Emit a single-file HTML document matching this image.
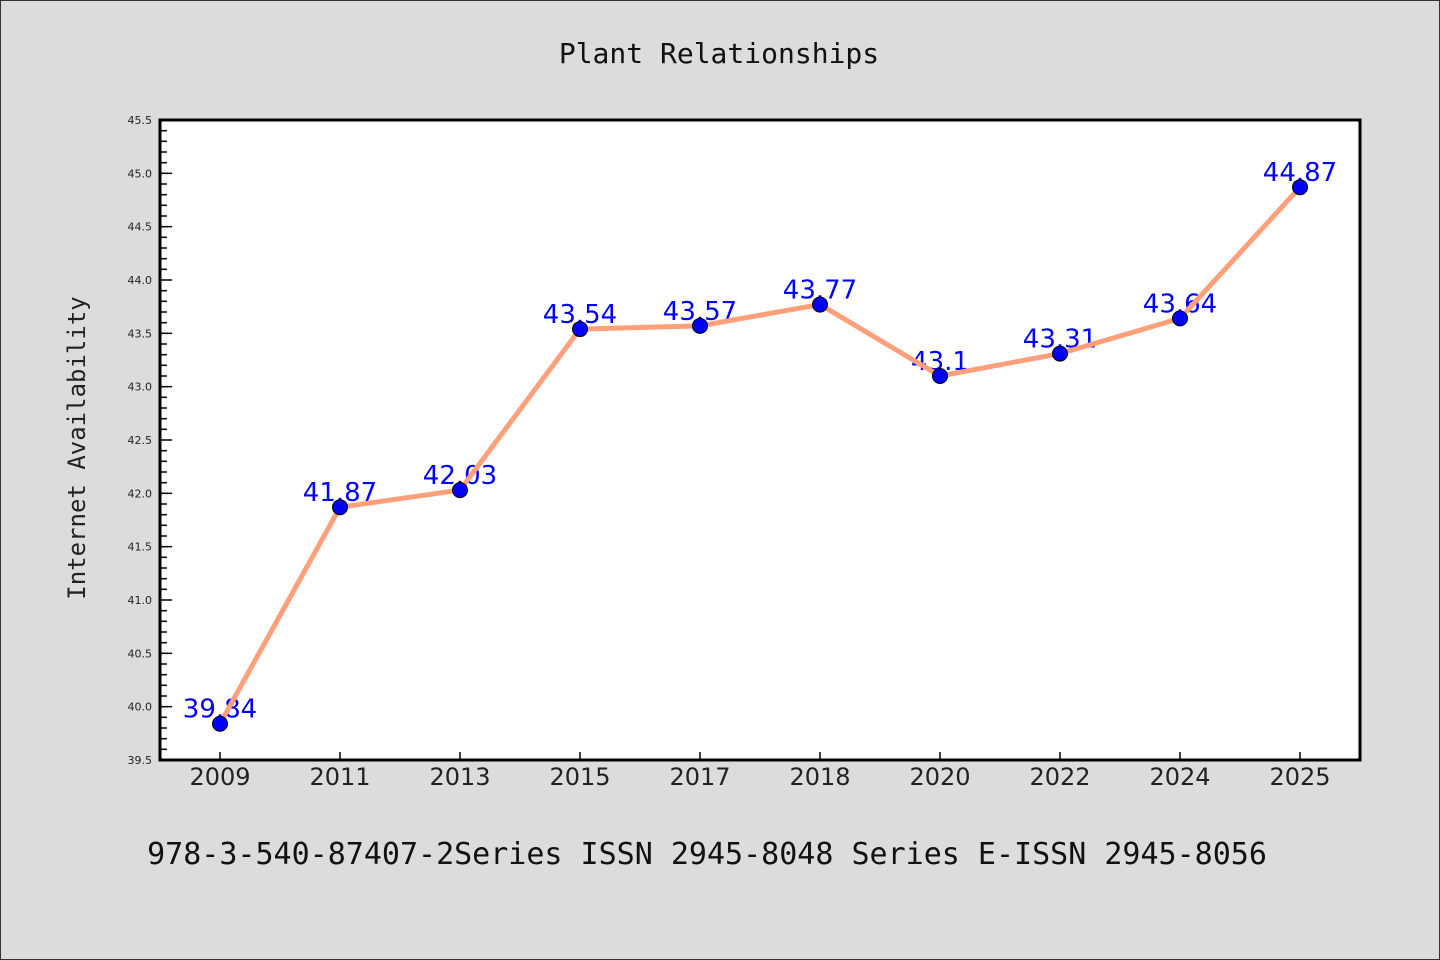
<!DOCTYPE html>
<html><head><meta charset="utf-8"><style>
body{margin:0;background:#dcdcdc;}
svg{display:block}
</style></head><body>
<svg width="1440" height="960" xmlns="http://www.w3.org/2000/svg">
<rect x="0.5" y="0.5" width="1439" height="959" fill="#dcdcdc" stroke="#333"/>
<text x="719" y="63" text-anchor="middle" font-family="DejaVu Sans Mono, Liberation Mono, monospace" font-size="28" fill="#111">Plant Relationships</text>
<text transform="translate(85,448) rotate(-90)" text-anchor="middle" font-family="DejaVu Sans Mono, Liberation Mono, monospace" font-size="24" fill="#222">Internet Availability</text>
<text x="707" y="864" text-anchor="middle" font-family="DejaVu Sans Mono, Liberation Mono, monospace" font-size="30" fill="#111">978-3-540-87407-2Series ISSN 2945-8048 Series E-ISSN 2945-8056</text>
<rect x="160" y="120" width="1200" height="640" fill="#fff"/>
<g id="g"></g>
<rect x="160" y="120" width="1200" height="640" fill="none" stroke="#000" stroke-width="3"/>
</svg>
<script>
const categories=["2009","2011","2013","2015","2017","2018","2020","2022","2024","2025"];
const values=[39.84,41.87,42.03,43.54,43.57,43.77,43.1,43.31,43.64,44.87];
const valueLabels=["39.84","41.87","42.03","43.54","43.57","43.77","43.1","43.31","43.64","44.87"];
const yTicks=[39.5,40.0,40.5,41.0,41.5,42.0,42.5,43.0,43.5,44.0,44.5,45.0,45.5];
const yMin=39.5,yMax=45.5,L=160,T=120,W=1200,H=640;
const NS="http://www.w3.org/2000/svg";
const g=document.getElementById('g');
function y(v){return T+H-(v-yMin)/(yMax-yMin)*H;}
function x(i){return L+W/categories.length*(i+0.5);}
function mk(t,a){const e=document.createElementNS(NS,t);for(const k in a)e.setAttribute(k,a[k]);g.appendChild(e);return e;}
// minor ticks
for(let v=yMin;v<=yMax+1e-9;v+=0.1){const major=Math.abs(v*2-Math.round(v*2))<1e-6;
 const t=mk('line',{x1:L,x2:L+(major?12:7),y1:y(v),y2:y(v),stroke:'#000','stroke-width':1.5});
 
 }
yTicks.forEach(v=>{const t=mk('text',{x:L-8,y:y(v)+4,'text-anchor':'end','font-family':'DejaVu Sans, Liberation Sans, sans-serif','font-size':11,fill:'#222'});t.textContent=v.toFixed(1);
 
 });
categories.forEach((c,i)=>{const t=mk('line',{x1:x(i),x2:x(i),y1:T+H,y2:T+H-8,stroke:'#000','stroke-width':1.5});
 
 
 const l=mk('text',{x:x(i),y:785,'text-anchor':'middle','font-family':'DejaVu Sans, Liberation Sans, sans-serif','font-size':24,fill:'#222'});l.textContent=c;
 
 });
values.forEach((v,i)=>{const t=mk('text',{x:x(i),y:y(v)-6,'text-anchor':'middle','font-family':'DejaVu Sans, Liberation Sans, sans-serif','font-size':26,fill:'#0000ff'});t.textContent=valueLabels[i];
 
 });
const p=mk('polyline',{points:values.map((v,i)=>x(i)+','+y(v)).join(' '),fill:'none',stroke:'#ffa07a','stroke-width':5,'stroke-linejoin':'round'});


values.forEach((v,i)=>{const c=mk('circle',{cx:x(i),cy:y(v),r:7.5,fill:'#0000ff',stroke:'#000','stroke-width':1});
 
 });
</script>
</body></html>
